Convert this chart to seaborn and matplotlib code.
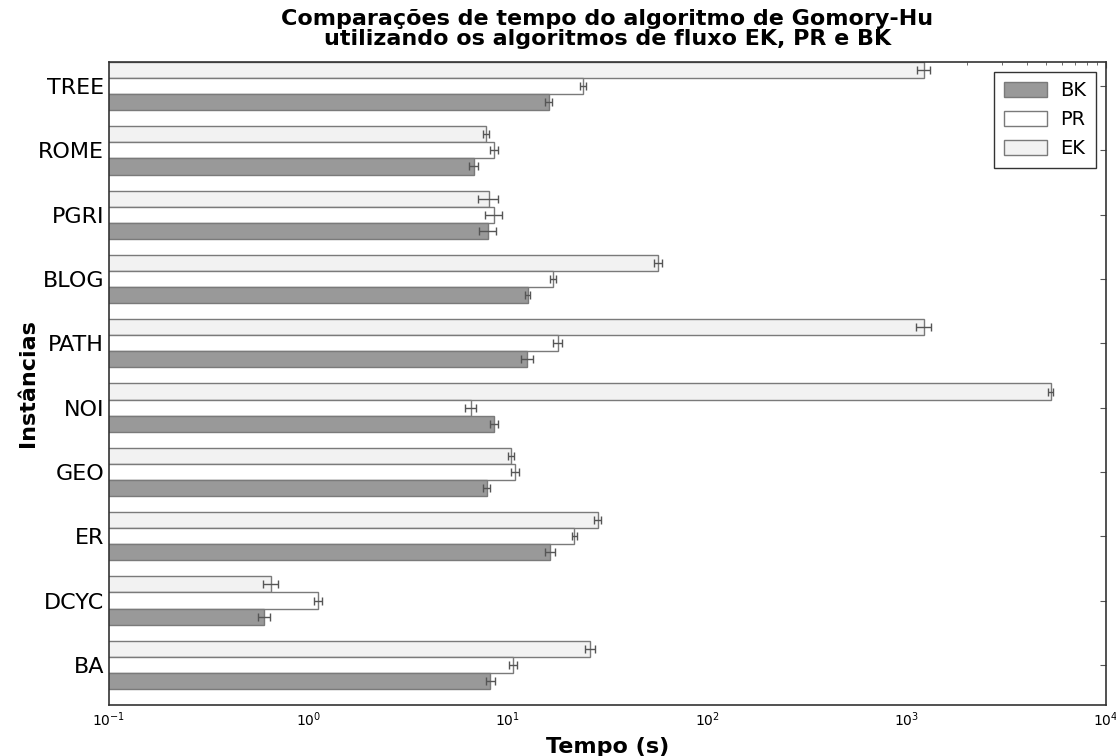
import numpy as np
import pandas as pd
import matplotlib
matplotlib.use("Agg")
import matplotlib.pyplot as plt
import seaborn as sns

# Instances, bottom to top
categories = ["BA", "DCYC", "ER", "GEO", "NOI", "PATH", "BLOG", "PGRI", "ROME", "TREE"]

# Mean running time (s) of Gomory-Hu with each max-flow algorithm
bk_time = [8.17, 0.60, 16.3, 7.85, 8.53, 12.5, 12.6, 7.94, 6.76, 16.0]
pr_time = [10.6, 1.12, 21.6, 10.9, 6.52, 17.8, 16.9, 8.53, 8.55, 23.8]
ek_time = [25.8, 0.647, 28.2, 10.4, 5270.0, 1220.0, 56.8, 8.02, 7.78, 1222.0]

# Error (s)
bk_err = [0.41, 0.041, 1.0, 0.30, 0.43, 0.90, 0.37, 0.75, 0.34, 0.60]
pr_err = [0.49, 0.056, 0.73, 0.50, 0.39, 0.92, 0.57, 0.81, 0.43, 0.90]
ek_err = [1.55, 0.058, 1.1, 0.39, 137.0, 108.0, 2.5, 0.94, 0.30, 95.0]

algorithms = ["BK", "PR", "EK"]
times = {"BK": bk_time, "PR": pr_time, "EK": ek_time}
errors = {"BK": bk_err, "PR": pr_err, "EK": ek_err}
colors = {"BK": "#999999", "PR": "#ffffff", "EK": "#f2f2f2"}

rows = []
for alg in algorithms:
    for cat, t in zip(categories, times[alg]):
        rows.append({"Instância": cat, "Tempo": t, "Algoritmo": alg})
df = pd.DataFrame(rows)

sns.set_style("white")
plt.rcParams.update({
    "font.family": ["DejaVu Sans"],
    "text.color": "black",
    "axes.labelcolor": "black",
    "xtick.color": "black",
    "ytick.color": "black",
    "xtick.direction": "in",
    "ytick.direction": "in",
    "xtick.top": True,
    "ytick.right": True,
    "xtick.major.size": 4,
    "xtick.minor.size": 2,
    "ytick.major.size": 4,
    "xtick.minor.visible": True,
    "axes.edgecolor": "#333333",
    "axes.linewidth": 1.2,
})

fig = plt.figure(figsize=(11.16, 7.56), dpi=100)
ax = fig.add_axes([109 / 1116, 1 - 705 / 756, (1106 - 109) / 1116, (705 - 62) / 756])

order = categories[::-1]
hue_order = ["EK", "PR", "BK"]
sns.barplot(data=df, y="Instância", x="Tempo", hue="Algoritmo", order=order,
            hue_order=hue_order, palette=colors, errorbar=None, width=0.75,
            edgecolor="#7a7a7a", linewidth=1.0, orient="h", ax=ax)

# Error bars at the centre of each drawn bar
for alg, container in zip(hue_order, ax.containers):
    vals = [times[alg][categories.index(c)] for c in order]
    errs = [errors[alg][categories.index(c)] for c in order]
    ys = [p.get_y() + p.get_height() / 2 for p in container.patches]
    ax.errorbar(vals, ys, xerr=errs, fmt="none", ecolor="#555555",
                elinewidth=1.0, capsize=3, capthick=1.0, zorder=5)

ax.set_xscale("log")
ax.set_xlim(0.1, 1e4)
ax.set_ylim(9.625, -0.375)

ax.tick_params(axis="y", labelsize=16, length=4, color="#555555", labelcolor="black")
ax.tick_params(axis="x", which="both", labelsize=10, color="#555555", labelcolor="black")
ax.tick_params(axis="x", which="major", pad=4)

ax.set_xlabel("Tempo (s)", fontsize=16, fontweight="bold", labelpad=6)
ax.set_ylabel("Instâncias", fontsize=16, fontweight="bold", labelpad=0)
ax.set_title("Comparações de tempo do algoritmo de Gomory-Hu\nutilizando os algoritmos de fluxo EK, PR e BK",
             fontsize=16, fontweight="bold", pad=12, linespacing=1.05)

handles, labels = ax.get_legend_handles_labels()
hmap = dict(zip(labels, handles))
leg = ax.legend([hmap[a] for a in algorithms], algorithms, loc="upper right",
                fontsize=14, frameon=True, fancybox=False, edgecolor="black",
                handlelength=2.2, handleheight=0.8, borderaxespad=0.5,
                labelspacing=0.5, borderpad=0.5, handletextpad=0.7)
leg.get_frame().set_linewidth(1.0)
for h in leg.legend_handles:
    h.set_edgecolor("#7a7a7a")

fig.savefig("out.png", dpi=100)
